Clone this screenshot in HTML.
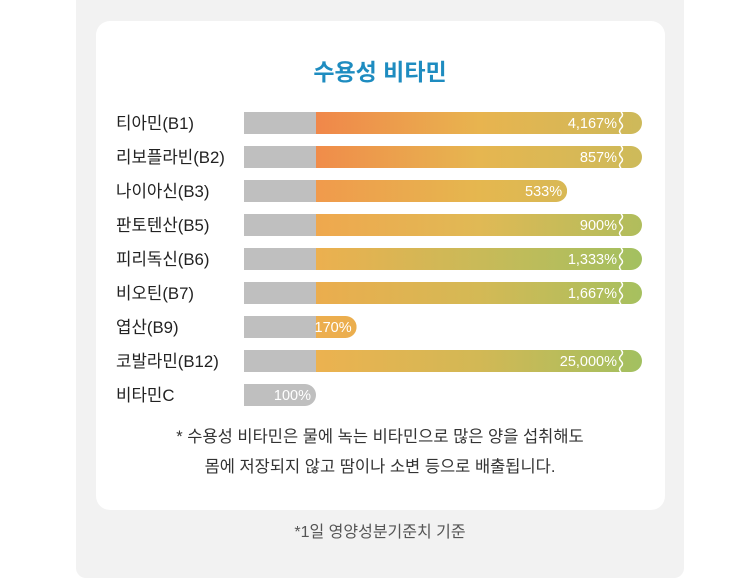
<!DOCTYPE html>
<html><head><meta charset="utf-8"><style>
body{margin:0;width:751px;height:584px;background:#fff;font-family:"Liberation Sans","Noto Sans CJK KR",sans-serif;overflow:hidden}
#outer{position:absolute;left:76px;top:0;width:608px;height:578px;background:#f2f2f2;border-radius:0 0 10px 10px}
#card{position:absolute;left:96px;top:21px;width:569px;height:489px;background:#fff;border-radius:14px}
</style></head><body>
<div id="outer"></div>
<div id="card"></div>
<svg id="chart" width="751" height="584" style="position:absolute;left:0;top:0">
<defs id="defs"></defs>
<text x="380" y="80" text-anchor="middle" font-size="23" font-weight="bold" fill="#1e8cc0">수용성 비타민</text>
<g id="rows"></g>
<text x="380" y="442" text-anchor="middle" font-size="16.5" fill="#333">* 수용성 비타민은 물에 녹는 비타민으로 많은 양을 섭취해도</text>
<text x="380" y="472" text-anchor="middle" font-size="16.5" fill="#333">몸에 저장되지 않고 땀이나 소변 등으로 배출됩니다.</text>
<text x="380" y="537" text-anchor="middle" font-size="16" fill="#555">*1일 영양성분기준치 기준</text>
</svg>
<script>
const categories=["티아민(B1)","리보플라빈(B2)","나이아신(B3)","판토텐산(B5)","피리독신(B6)","비오틴(B7)","엽산(B9)","코발라민(B12)","비타민C"];
const values=[4167,857,533,900,1333,1667,170,25000,100];
const valueLabels=["4,167%","857%","533%","900%","1,333%","1,667%","170%","25,000%","100%"];
const breakAt=800;
const gradStarts=["#f0874a","#f08c4a","#f09a4c","#efa84e","#ecb04f","#ebad4e","#ecae4e","#ecb250","#ecb250"];
const gradMids=["#e8b44f","#e6b650","#e5b74f","#e0b955","#c9ba58","#d4b955","#e8b04e","#d2b855","#ccc"];
const gradEnds=["#cdb95a","#cdba5a","#cdba5a","#b0bd5c","#a3c060","#a6c05f","#e8b04e","#a2c060","#ccc"];
const x0=244,unit=72,fullEnd=642,k=0.58,rowTop=112,rowStep=34,barH=22;
const ns="http://www.w3.org/2000/svg";
const defs=document.getElementById('defs'),g=document.getElementById('rows');
function xEnd(v){ if(v>breakAt) return fullEnd; return x0+unit+(v-100)*k; }
function mk(t,a){const e=document.createElementNS(ns,t);for(const q in a)e.setAttribute(q,a[q]);return e;}
categories.forEach((c,i)=>{
  const y=rowTop+i*rowStep, xe=xEnd(values[i]), r=barH/2;
  const row=mk('g',{});
  
  
  const lab=mk('text',{x:116,y:y+17,'font-size':16.8,fill:'#222'});
  lab.textContent=c;
  
  
  row.appendChild(lab);
  const gr=mk('linearGradient',{id:'gr'+i,x1:x0+unit,x2:fullEnd,y1:0,y2:0,gradientUnits:'userSpaceOnUse'});
  gr.appendChild(mk('stop',{offset:'0','stop-color':gradStarts[i]}));
  gr.appendChild(mk('stop',{offset:'0.5','stop-color':gradMids[i]}));
  gr.appendChild(mk('stop',{offset:'1','stop-color':gradEnds[i]}));
  defs.appendChild(gr);
  const cp=mk('clipPath',{id:'cp'+i});
  cp.appendChild(mk('path',{d:`M${x0},${y}H${xe-r}A${r},${r} 0 0 1 ${xe-r},${y+barH}H${x0}Z`}));
  defs.appendChild(cp);
  const bg=mk('g',{'clip-path':`url(#cp${i})`});
  const col=mk('rect',{x:x0+unit,y:y,width:Math.max(0,xe-x0-unit),height:barH,fill:`url(#gr${i})`});
  
  
  const gray=mk('rect',{x:x0,y:y,width:Math.min(unit,xe-x0),height:barH,fill:'#bfbfbf'});
  
  
  bg.appendChild(col);bg.appendChild(gray);
  if(values[i]>breakAt){
    const bx=fullEnd-21;
    let d=`M${bx},${y}`;
    for(let s=0;s<4;s++){d+=` q${s%2?-3:3},${barH/8} 0,${barH/4}`;}
    const br=mk('path',{d:d,stroke:'#fff','stroke-width':1.5,fill:'none'});
    
    
    bg.appendChild(br);
  }
  row.appendChild(bg);
  const tx=values[i]>breakAt?fullEnd-25:xe-5;
  const vt=mk('text',{x:tx,y:y+16,'text-anchor':'end','font-size':14.5,fill:'#fff'});
  vt.textContent=valueLabels[i];
  
  
  row.appendChild(vt);
  g.appendChild(row);
});
</script>
</body></html>
